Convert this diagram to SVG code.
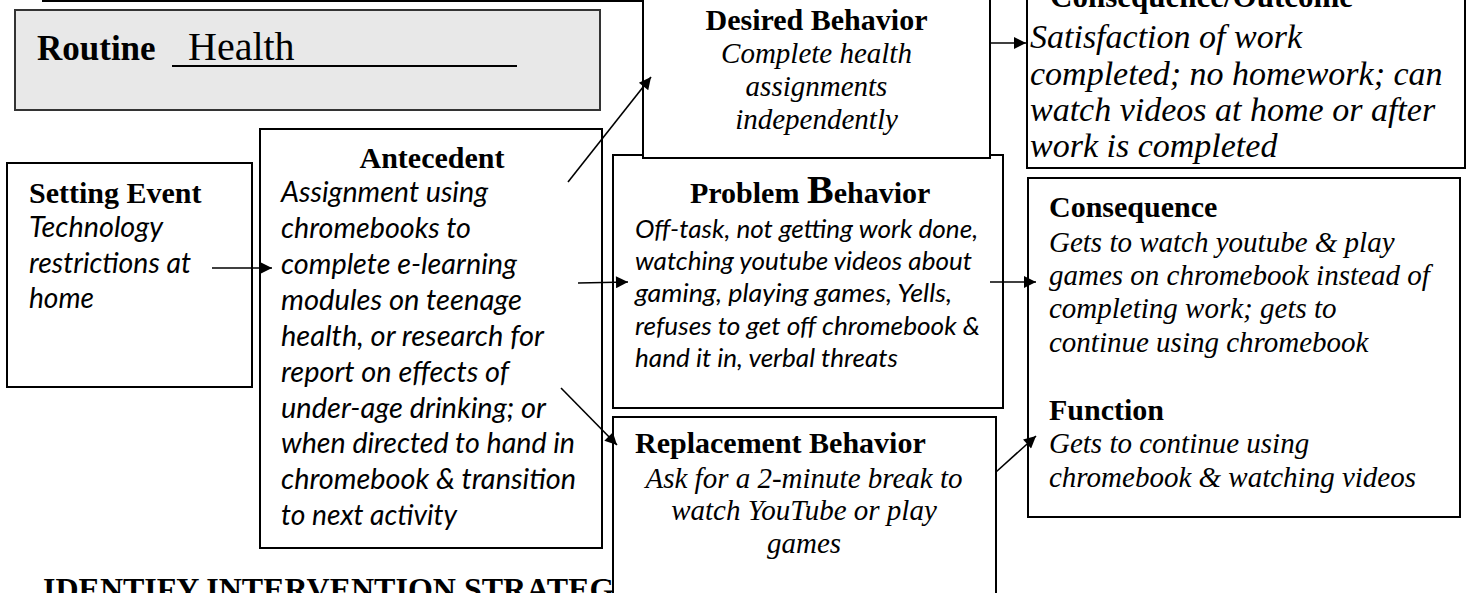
<svg xmlns="http://www.w3.org/2000/svg" width="1470" height="593" viewBox="0 0 1470 593">
<style>
.box{fill:#fff;stroke:#000;stroke-width:2}
.tb{font-family:"Liberation Serif","Times New Roman",serif;font-weight:bold;font-size:30px;fill:#000}
.ti{font-family:"Liberation Serif","Times New Roman",serif;font-style:italic;font-size:29px;fill:#000}
.ci{font-family:Lato,"Liberation Sans",sans-serif;font-style:italic;font-size:28px;fill:#000}
.cs{font-family:Lato,"Liberation Sans",sans-serif;font-style:italic;font-size:26px;fill:#000}
.conn{stroke:#000;stroke-width:1.6;fill:none;marker-end:url(#ah)}
</style>
<defs>
<marker id="ah" viewBox="0 0 10 10" refX="10" refY="5" markerUnits="userSpaceOnUse" markerWidth="14" markerHeight="12" orient="auto">
<path d="M0,0 L10,5 L0,10 z" fill="#000"/>
</marker>
</defs>
<rect width="1470" height="593" fill="#fff"/>

<g id="routine">
<rect x="15" y="10" width="585" height="100" fill="#e8e8e8" stroke="#333" stroke-width="2"/>
<text x="37" y="60" class="tb" style="font-size:35px">Routine</text>
<text x="188" y="60" style="font-family:'Liberation Serif','Times New Roman',serif;font-size:40px">Health</text>
<line x1="172" y1="66" x2="517" y2="66" stroke="#000" stroke-width="2"/>
</g>

<g id="setting-event">
<rect class="box" x="7" y="163" width="245" height="224"/>
<text x="29" y="203" class="tb">Setting Event</text>
<text class="ci" x="29" y="237" textLength="134" lengthAdjust="spacingAndGlyphs">Technology</text>
<text class="ci" x="29" y="273" textLength="162" lengthAdjust="spacingAndGlyphs">restrictions at</text>
<text class="ci" x="29" y="308" textLength="65" lengthAdjust="spacingAndGlyphs">home</text>
</g>

<g id="antecedent">
<rect class="box" x="260" y="129" width="342" height="419"/>
<text x="432" y="168" class="tb" text-anchor="middle">Antecedent</text>
<text class="ci" x="281" y="202" textLength="207" lengthAdjust="spacingAndGlyphs">Assignment using</text>
<text class="ci" x="281" y="238" textLength="190" lengthAdjust="spacingAndGlyphs">chromebooks to</text>
<text class="ci" x="281" y="274" textLength="236" lengthAdjust="spacingAndGlyphs">complete e-learning</text>
<text class="ci" x="281" y="310" textLength="241" lengthAdjust="spacingAndGlyphs">modules on teenage</text>
<text class="ci" x="281" y="346" textLength="263" lengthAdjust="spacingAndGlyphs">health, or research for</text>
<text class="ci" x="281" y="382" textLength="228" lengthAdjust="spacingAndGlyphs">report on effects of</text>
<text class="ci" x="281" y="418" textLength="265" lengthAdjust="spacingAndGlyphs">under-age drinking; or</text>
<text class="ci" x="281" y="453" textLength="294" lengthAdjust="spacingAndGlyphs">when directed to hand in</text>
<text class="ci" x="281" y="489" textLength="295" lengthAdjust="spacingAndGlyphs">chromebook &amp; transition</text>
<text class="ci" x="281" y="525" textLength="176" lengthAdjust="spacingAndGlyphs">to next activity</text>
</g>

<g id="problem-behavior">
<rect class="box" x="613" y="155" width="390" height="253"/>
<text x="690" y="203" class="tb">Problem <tspan style="font-size:40px">B</tspan>ehavior</text>
<text class="cs" x="635" y="238" textLength="343" lengthAdjust="spacingAndGlyphs">Off-task, not getting work done,</text>
<text class="cs" x="635" y="270" textLength="337" lengthAdjust="spacingAndGlyphs">watching youtube videos about</text>
<text class="cs" x="635" y="302" textLength="317" lengthAdjust="spacingAndGlyphs">gaming, playing games, Yells,</text>
<text class="cs" x="635" y="335" textLength="345" lengthAdjust="spacingAndGlyphs">refuses to get off chromebook &amp;</text>
<text class="cs" x="635" y="367" textLength="263" lengthAdjust="spacingAndGlyphs">hand it in, verbal threats</text>
</g>

<g id="desired-behavior">
<rect class="box" x="643" y="-10" width="347" height="168"/>
<text x="816.5" y="30" class="tb" text-anchor="middle">Desired Behavior</text>
<text x="816.5" y="63" class="ti" text-anchor="middle">Complete health</text>
<text x="816.5" y="96" class="ti" text-anchor="middle">assignments</text>
<text x="816.5" y="129" class="ti" text-anchor="middle">independently</text>
</g>

<g id="consequence-outcome">
<rect class="box" x="1027" y="-10" width="438" height="178"/>
<text x="1050" y="7" class="tb" style="font-size:31px">Consequence/Outcome</text>
<text x="1030" y="48" class="ti" style="font-size:34px">Satisfaction of work</text>
<text x="1030" y="85" class="ti" style="font-size:34px">completed; no homework; can</text>
<text x="1030" y="121" class="ti" style="font-size:34px">watch videos at home or after</text>
<text x="1030" y="157" class="ti" style="font-size:34px">work is completed</text>
</g>

<g id="consequence">
<rect class="box" x="1028" y="178" width="432" height="339"/>
<text x="1049" y="217" class="tb">Consequence</text>
<text x="1049" y="252" class="ti">Gets to watch youtube &amp; play</text>
<text x="1049" y="285" class="ti">games on chromebook instead of</text>
<text x="1049" y="318" class="ti">completing work; gets to</text>
<text x="1049" y="352" class="ti">continue using chromebook</text>
<text x="1049" y="420" class="tb">Function</text>
<text x="1049" y="453" class="ti">Gets to continue using</text>
<text x="1049" y="487" class="ti">chromebook &amp; watching videos</text>
</g>

<g id="heading">
<text x="43" y="600" class="tb" style="font-size:32px">IDENTIFY INTERVENTION STRATEG</text>
</g>

<g id="replacement-behavior">
<rect class="box" x="613" y="417" width="383" height="190"/>
<text x="635" y="453" class="tb">Replacement Behavior</text>
<text x="804" y="488" class="ti" text-anchor="middle">Ask for a 2-minute break to</text>
<text x="804" y="520" class="ti" text-anchor="middle">watch YouTube or play</text>
<text x="804" y="553" class="ti" text-anchor="middle">games</text>
</g>

<g id="connectors">
<line x1="42" y1="1" x2="643" y2="1" stroke="#000" stroke-width="2"/>
<line class="conn" x1="212" y1="268" x2="272" y2="268"/>
<line class="conn" x1="568" y1="182" x2="651" y2="77"/>
<line class="conn" x1="578" y1="283" x2="628" y2="282"/>
<line class="conn" x1="561" y1="388" x2="617" y2="445"/>
<line class="conn" x1="990" y1="282" x2="1036" y2="282"/>
<line class="conn" x1="990" y1="43" x2="1026" y2="43"/>
<line class="conn" x1="996" y1="472" x2="1036" y2="436"/>
</g>
</svg>
